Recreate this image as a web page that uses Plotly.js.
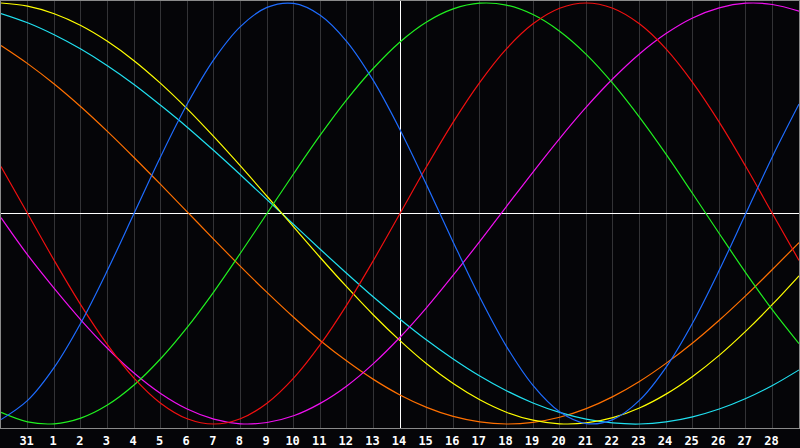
<!DOCTYPE html>
<html>
<head>
<meta charset="utf-8">
<script src="https://cdn.plot.ly/plotly-3.0.1.min.js"></script>
<style>
  html, body { margin: 0; padding: 0; background: #050508; }
  #mainPlot { width: 800px; height: 448px; }
</style>
</head>
<body>
<div id="mainPlot"></div>
<script>
MAINPLOT = document.getElementById('mainPlot');

// days relative to today (0 = today, the white vertical line)
let days = [-15, -14, -13, -12, -11, -10, -9, -8, -7, -6, -5, -4, -3, -2, -1, 0,
            1, 2, 3, 4, 5, 6, 7, 8, 9, 10, 11, 12, 13, 14, 15];

let tickDays = [-14, -13, -12, -11, -10, -9, -8, -7, -6, -5, -4, -3, -2, -1, 0,
                1, 2, 3, 4, 5, 6, 7, 8, 9, 10, 11, 12, 13, 14];
let tickLabels = ['31', '1', '2', '3', '4', '5', '6', '7', '8', '9', '10', '11', '12', '13', '14',
                  '15', '16', '17', '18', '19', '20', '21', '22', '23', '24', '25', '26', '27', '28'];

// values, -1 .. 1
let blue = [-0.979, -0.888, -0.731, -0.520, -0.270, 0.000, 0.270, 0.520, 0.731, 0.888, 0.979,
            0.998, 0.942, 0.817, 0.631, 0.398, 0.136, -0.136, -0.398, -0.631, -0.817,
            -0.942, -0.998, -0.979, -0.888, -0.731, -0.520, -0.270, 0.000, 0.270, 0.520];

let red = [0.223, 0.000, -0.223, -0.434, -0.623, -0.782, -0.901, -0.975, -1.000, -0.975, -0.901,
           -0.782, -0.623, -0.434, -0.223, 0.000, 0.223, 0.434, 0.623, 0.782, 0.901,
           0.975, 1.000, 0.975, 0.901, 0.782, 0.623, 0.434, 0.223, 0.000, -0.223];

let green = [-0.945, -0.990, -0.999, -0.972, -0.910, -0.815, -0.690, -0.541, -0.372, -0.189, 0.000,
             0.189, 0.372, 0.541, 0.690, 0.815, 0.910, 0.972, 0.999, 0.990, 0.945,
             0.866, 0.756, 0.618, 0.458, 0.282, 0.095, -0.095, -0.282, -0.458, -0.618];

let magenta = [-0.020, -0.197, -0.356, -0.505, -0.640, -0.758, -0.855, -0.929, -0.977, -0.999, -0.993,
               -0.961, -0.902, -0.819, -0.713, -0.588, -0.447, -0.293, -0.132, 0.033, 0.197,
               0.356, 0.505, 0.640, 0.758, 0.855, 0.929, 0.977, 0.999, 0.993, 0.961];

let yellow = [1.000, 0.985, 0.949, 0.893, 0.818, 0.726, 0.618, 0.497, 0.365, 0.226, 0.082,
              -0.064, -0.209, -0.349, -0.482, -0.604, -0.714, -0.808, -0.885, -0.944, -0.982,
              -0.999, -0.995, -0.970, -0.924, -0.858, -0.774, -0.674, -0.559, -0.432, -0.296];

let orange = [0.798, 0.712, 0.615, 0.507, 0.390, 0.266, 0.138, 0.008, -0.123, -0.251, -0.375,
              -0.493, -0.603, -0.701, -0.788, -0.862, -0.921, -0.964, -0.990, -1.000, -0.992,
              -0.968, -0.927, -0.870, -0.798, -0.712, -0.615, -0.507, -0.390, -0.266, -0.138];

let cyan = [0.950, 0.906, 0.849, 0.781, 0.702, 0.613, 0.514, 0.410, 0.299, 0.184, 0.066,
            -0.052, -0.170, -0.285, -0.397, -0.502, -0.601, -0.691, -0.772, -0.842, -0.900,
            -0.945, -0.977, -0.995, -1.000, -0.990, -0.966, -0.929, -0.879, -0.817, -0.743];

function curve(y, color) {
    return {
        x: days,
        y: y,
        type: 'scatter',
        mode: 'lines',
        line: { color: color, width: 1.2, shape: 'spline', smoothing: 1 },
        hoverinfo: 'skip'
    };
}

var data = [
    curve(orange, '#ff7000'),
    curve(cyan, '#20e0f0'),
    curve(yellow, '#ffff00'),
    curve(magenta, '#f010f0'),
    curve(green, '#20f020'),
    curve(red, '#f01010'),
    curve(blue, '#1e6cff')
];

var layout = {
    width: 800,
    height: 448,
    margin: { l: 1, r: 1, t: 1, b: 20 },
    paper_bgcolor: '#050508',
    plot_bgcolor: '#050508',
    showlegend: false,
    xaxis: {
        range: [-15, 15],
        tickmode: 'array',
        tickvals: tickDays,
        ticktext: tickLabels,
        ticks: '',
        ticklabelshift: -1,
        ticklabelstandoff: 2,
        tickfont: { family: 'DejaVu Sans Mono', size: 12, color: '#ffffff', weight: 'bold' },
        showgrid: true,
        gridcolor: '#333336',
        gridwidth: 1,
        zeroline: true,
        zerolinecolor: '#ffffff',
        zerolinewidth: 1,
        showline: true,
        mirror: true,
        linecolor: '#8a8a8a',
        linewidth: 1,
        fixedrange: true
    },
    yaxis: {
        range: [-1.019, 1.0095],
        showticklabels: false,
        ticks: '',
        showgrid: false,
        zeroline: true,
        zerolinecolor: '#ffffff',
        zerolinewidth: 1,
        showline: true,
        mirror: true,
        linecolor: '#8a8a8a',
        linewidth: 1,
        fixedrange: true
    }
};

Plotly.newPlot(MAINPLOT, data, layout, { displayModeBar: false, staticPlot: true });
</script>
</body>
</html>
